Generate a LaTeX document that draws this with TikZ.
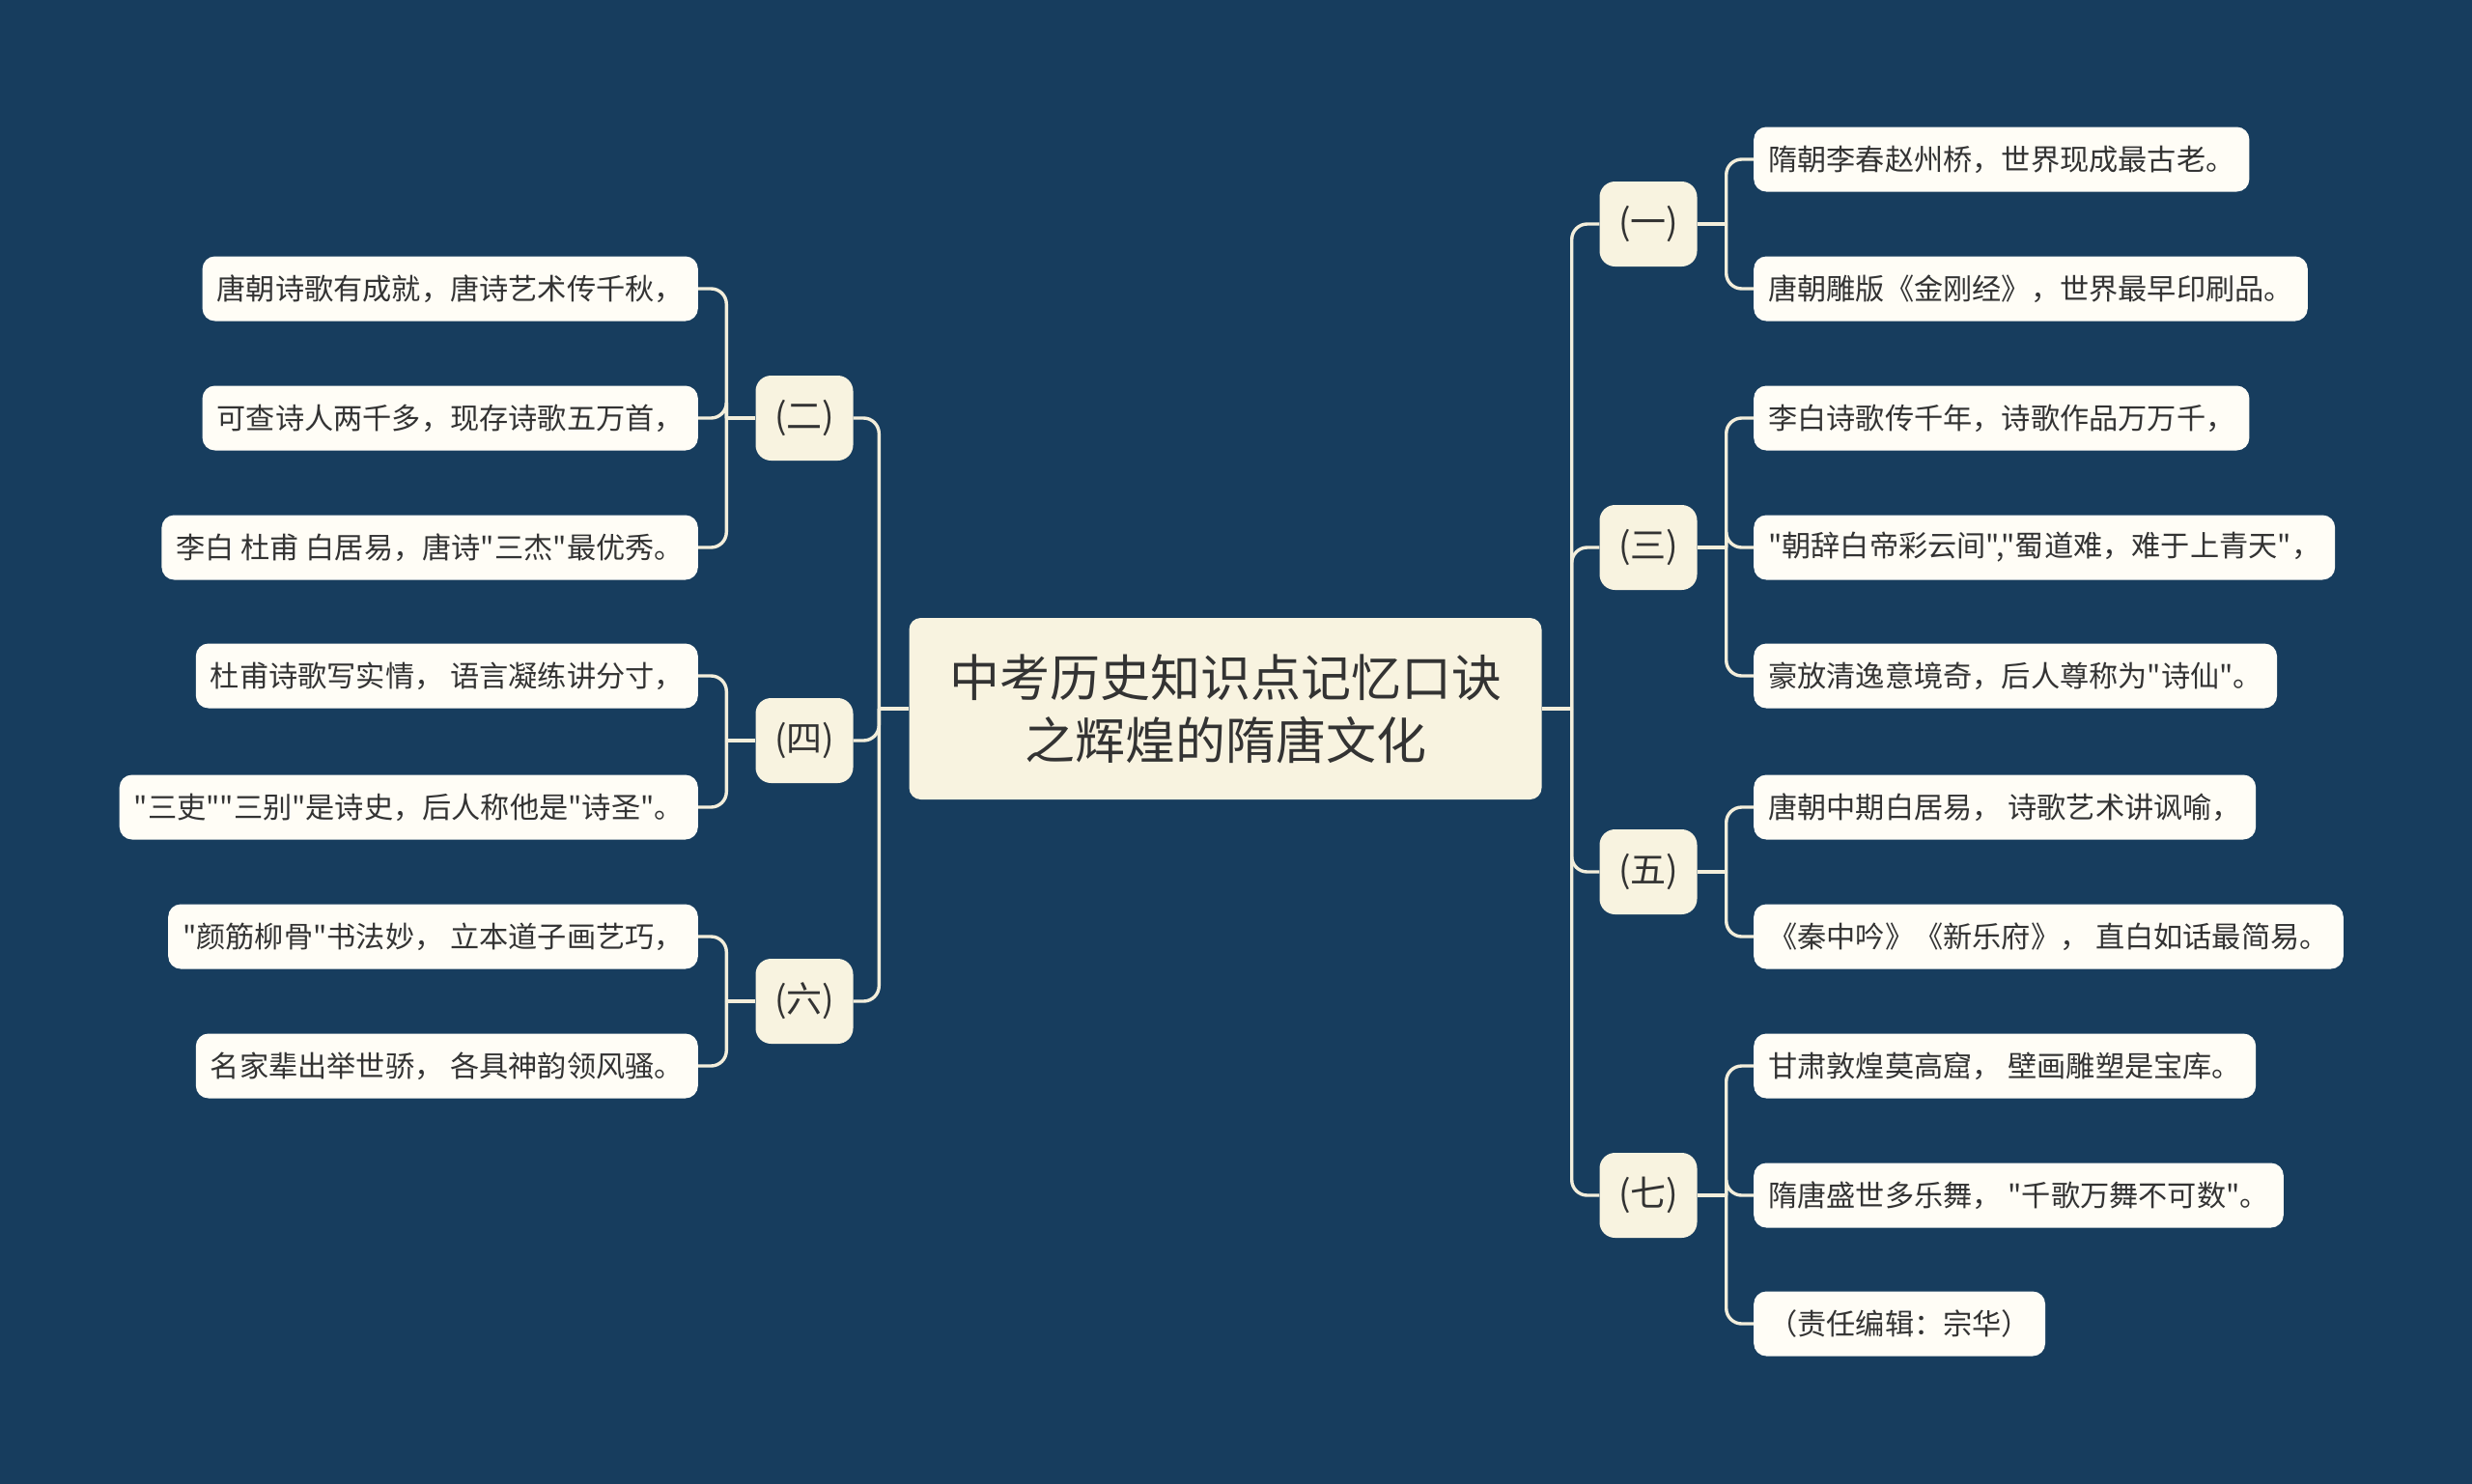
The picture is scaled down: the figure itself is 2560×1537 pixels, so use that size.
\documentclass[tikz,border=0pt]{standalone}
\usepackage{fontspec}
\newfontfamily\cjk{Noto Sans CJK SC}
\usetikzlibrary{calc}
\definecolor{bgc}{HTML}{173D5E}
\definecolor{leaffill}{HTML}{FFFDF6}
\definecolor{midfill}{HTML}{F8F3E0}
\definecolor{linec}{HTML}{F3EEDB}
\definecolor{txt}{HTML}{333333}
\tikzset{
  leaf/.style={draw=none, fill=leaffill, rounded corners=13pt, minimum height=67pt, inner xsep=15pt, inner ysep=0pt, text=txt, font=\cjk\fontsize{30.2}{35}\selectfont},
  lvl/.style={draw=none, fill=midfill, rounded corners=16pt, minimum width=101pt, minimum height=88pt, inner sep=0pt, text=txt, font=\cjk\fontsize{37}{40}\selectfont},
  root/.style={draw=none, fill=midfill, rounded corners=12pt, minimum width=655pt, minimum height=188pt, inner sep=0pt, align=center, text=txt, font=\cjk\fontsize{52}{65}\selectfont},
  conn/.style={draw=linec, line width=3.4pt, rounded corners=16pt},
}
\begin{document}
\begin{tikzpicture}[x=1pt,y=-1pt]
\fill[bgc] (0,0) rectangle (2560,1537);
\useasboundingbox (0,0) rectangle (2560,1537);

% root
\node[root] (c) at (1269,734) {中考历史知识点记忆口诀\\之辉煌的隋唐文化};

% level 1 left
\node[lvl] (n2) at (833,433) {(二)};
\node[lvl] (n4) at (833,767) {(四)};
\node[lvl] (n6) at (833,1037) {(六)};
% level 1 right
\node[lvl] (n1) at (1707,232) {(一)};
\node[lvl] (n3) at (1707,567) {(三)};
\node[lvl] (n5) at (1707,903) {(五)};
\node[lvl] (n7) at (1707,1238) {(七)};

% left leaves
\node[leaf, anchor=east] (l21) at (723,299) {唐朝诗歌有成就，唐诗艺术传千秋，};
\node[leaf, anchor=east] (l22) at (723,433) {可查诗人两千多，现存诗歌五万首，};
\node[leaf, anchor=east] (l23) at (723,567) {李白 杜甫 白居易，唐诗"三杰"最优秀。};
\node[leaf, anchor=east] (l41) at (723,700) {杜甫诗歌写实情，  语言凝练讲分寸，};
\node[leaf, anchor=east] (l42) at (723,836) {"三吏""三别"是诗史，后人称他是"诗圣"。};
\node[leaf, anchor=east] (l61) at (723,970) {"颜筋柳骨"书法妙，  立本道子画艺巧，};
\node[leaf, anchor=east] (l62) at (723,1104) {名家辈出举世骄，  各具神韵领风骚。};

% right leaves
\node[leaf, anchor=west] (r11) at (1816,165) {隋朝李春赵州桥，世界现成最古老。};
\node[leaf, anchor=west] (r12) at (1816,299) {唐朝雕版《金刚经》，世界最早印刷品。};
\node[leaf, anchor=west] (r31) at (1816,433) {李白诗歌传千年，诗歌作品万万千，};
\node[leaf, anchor=west] (r32) at (1816,567) {"朝辞白帝彩云间","蜀道难，难于上青天"，};
\node[leaf, anchor=west] (r33) at (1816,700) {豪放清逸意境奇，后人尊称为"诗仙"。};
\node[leaf, anchor=west] (r51) at (1816,836) {唐朝中期白居易，  诗歌艺术讲讽喻，};
\node[leaf, anchor=west] (r52) at (1816,970) {《秦中吟》《新乐府》，  直白如话最简易。};
\node[leaf, anchor=west] (r71) at (1816,1104) {甘肃敦煌莫高窟，  壁画雕塑是宝库。};
\node[leaf, anchor=west] (r72) at (1816,1238) {隋唐盛世多乐舞，  "千歌万舞不可数"。};
\node[leaf, anchor=west] (r73) at (1816,1371) {（责任编辑：宗华）};

% junction coordinates
\coordinate (cl) at ($(c.west)+(-31,0)$);
\coordinate (cr) at ($(c.east)+(31,0)$);
\coordinate (j2) at ($(n2.west)+(-30,0)$);
\coordinate (j4) at ($(n4.west)+(-30,0)$);
\coordinate (j6) at ($(n6.west)+(-30,0)$);
\coordinate (j1) at ($(n1.east)+(30,0)$);
\coordinate (j3) at ($(n3.east)+(30,0)$);
\coordinate (j5) at ($(n5.east)+(30,0)$);
\coordinate (j7) at ($(n7.east)+(30,0)$);

% root connectors
\draw[conn] (c.west) -- (cl);
\draw[conn] (c.east) -- (cr);
\foreach \n in {n2,n4,n6} \draw[conn] (cl) |- (\n.east);
\foreach \n in {n1,n3,n5,n7} \draw[conn] (cr) |- (\n.west);

% level 1 stubs
\draw[conn] (n2.west) -- (j2);
\draw[conn] (n4.west) -- (j4);
\draw[conn] (n6.west) -- (j6);
\draw[conn] (n1.east) -- (j1);
\draw[conn] (n3.east) -- (j3);
\draw[conn] (n5.east) -- (j5);
\draw[conn] (n7.east) -- (j7);

% leaf connectors
\foreach \l in {l21,l22,l23} \draw[conn] (j2) |- (\l.east);
\foreach \l in {l41,l42} \draw[conn] (j4) |- (\l.east);
\foreach \l in {l61,l62} \draw[conn] (j6) |- (\l.east);
\foreach \l in {r11,r12} \draw[conn] (j1) |- (\l.west);
\foreach \l in {r31,r32,r33} \draw[conn] (j3) |- (\l.west);
\foreach \l in {r51,r52} \draw[conn] (j5) |- (\l.west);
\foreach \l in {r71,r72,r73} \draw[conn] (j7) |- (\l.west);
\end{tikzpicture}
\end{document}
